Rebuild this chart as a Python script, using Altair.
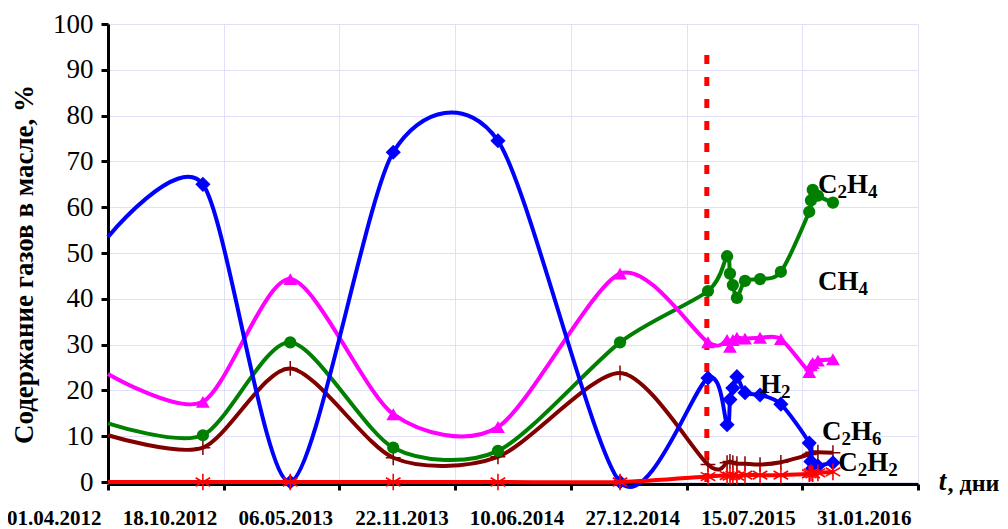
import altair as alt
import pandas as pd

# ---- data (days counted from 01.04.2012) ----
days = [0, 164, 315, 493, 674, 885, 1037, 1070, 1075, 1080, 1087, 1101, 1127, 1163, 1212, 1215, 1218, 1227, 1253]
h2   = [53.5, 65.0, 0.0, 72.0, 74.5, 0.0, 22.7, 12.5, 18.0, 20.5, 23.0, 19.5, 19.0, 17.0, 8.5, 4.5, 3.0, 3.5, 4.2]
ch4  = [23.6, 17.5, 44.3, 14.8, 12.0, 45.5, 30.5, 31.0, 29.5, 31.0, 31.5, 31.3, 31.5, 31.2, 24.0, 25.5, 26.0, 26.5, 26.8]
c2h4 = [12.8, 10.2, 30.5, 7.5, 6.8, 30.5, 41.7, 49.3, 45.5, 43.0, 40.2, 43.9, 44.3, 45.9, 59.0, 61.5, 63.8, 62.5, 61.0]
c2h6 = [10.2, 7.5, 24.8, 5.3, 5.5, 23.8, 3.8, 4.2, 4.5, 4.2, 4.0, 4.0, 3.8, 4.3, 6.0, 6.2, 6.5, 6.5, 6.4]
c2h2 = [0.0, 0.0, 0.0, 0.0, 0.0, 0.0, 1.2, 1.4, 1.3, 1.5, 1.3, 1.5, 1.5, 1.5, 1.8, 2.0, 1.8, 2.0, 2.2]

tick_days = [0, 200, 400, 600, 800, 1000, 1200, 1400]
tick_labels = ["01.04.2012", "18.10.2012", "06.05.2013", "22.11.2013",
               "10.06.2014", "27.12.2014", "15.07.2015", "31.01.2016"]
y_ticks = [0, 10, 20, 30, 40, 50, 60, 70, 80, 90, 100]

event_day = [1035]
event_bottom = [0]
event_top = [96]

ann_text = ["C2H4", "CH4", "H2", "C2H6", "C2H2"]
ann_day = [1227, 1227, 1127, 1234, 1262]
ann_val = [64.8, 43.7, 21.2, 10.9, 4.1]

axis_title_x = ["t", ", дни"]
axis_title_day = [1436, 1451]

# ---- styles ----
FONT = "Liberation Serif"
PX_PER_DAY = 810 / 1400
BIG, SMALL = 27, 19
ADV = {"C": 0.722, "H": 0.778}

series = [
    ("C2H6", c2h6, "#800000"),
    ("C2H4", c2h4, "#008000"),
    ("CH4", ch4, "#FF00FF"),
    ("H2", h2, "#0000FF"),
    ("C2H2", c2h2, "#FF0000"),
]
marker_style = {
    "H2": dict(shape="diamond", filled=True, size=230),
    "CH4": dict(shape="triangle-up", filled=True, size=190),
    "C2H4": dict(shape="circle", filled=True, size=150),
    "C2H6": dict(shape="M-1,0L1,0M0,-1L0,1", filled=False, size=220, strokeWidth=1.5),
    "C2H2": dict(shape="M0,-1L0,1M-0.87,-0.5L0.87,0.5M-0.87,0.5L0.87,-0.5", filled=False, size=280, strokeWidth=1.6),
}

label_map = " : ".join("datum.value == %d ? '%s'" % (d, l) for d, l in zip(tick_days, tick_labels)) + " : ''"

x_enc = alt.X(
    "day:Q",
    scale=alt.Scale(domain=[0, 1400], nice=False, zero=False),
    axis=alt.Axis(
        values=tick_days, labelExpr=label_map, title=None,
        grid=True, gridColor="#e0e0f8", gridWidth=1,
        domainColor="black", domainWidth=3, offset=2,
        tickColor="black", tickWidth=3, tickSize=6,
        labelFont=FONT, labelFontWeight="bold", labelFontSize=21, labelColor="black",
        labelAlign="right", labelBaseline="top", labelPadding=17, labelOffset=-7,
        labelFlush=False, labelOverlap=False, labelBound=False,
    ),
)
y_enc = alt.Y(
    "value:Q",
    scale=alt.Scale(domain=[0, 100], nice=False),
    axis=alt.Axis(
        values=y_ticks, title="Содержание газов в масле, %",
        grid=True, gridColor="#e0e0f8", gridWidth=1,
        domainColor="black", domainWidth=3,
        tickColor="black", tickWidth=3, tickSize=7,
        labelFont=FONT, labelFontSize=27, labelColor="black", labelPadding=8,
        titleFont=FONT, titleFontSize=27, titleFontWeight="bold", titleColor="black",
        titleAngle=-90, titleX=-84, titleY=240, titleAlign="center", titleBaseline="middle",
    ),
)

layers = []
event_df = pd.DataFrame({"day": event_day, "value": event_bottom, "top": event_top})
layers.append(
    alt.Chart(event_df).mark_rule(color="#FF0000", strokeWidth=5, strokeDash=[9, 13]).encode(
        x=x_enc, y=y_enc, y2="top:Q"
    )
)

for name, vals, color in series:
    df = pd.DataFrame({"day": days, "value": vals})
    layers.append(
        alt.Chart(df).mark_line(interpolate="cardinal", tension=0.2, strokeWidth=4, color=color)
        .encode(x=x_enc, y=y_enc)
    )
    ms = marker_style[name]
    mdf = df.iloc[1:]
    kw = dict(color=color, shape=ms["shape"], filled=ms["filled"], size=ms["size"], opacity=1)
    if "strokeWidth" in ms:
        kw["strokeWidth"] = ms["strokeWidth"]
    layers.append(alt.Chart(mdf).mark_point(**kw).encode(x=x_enc, y=y_enc))

# chemical-formula labels: letters big, digits as subscripts
big_rows, small_rows = [], []
for text, d0, v in zip(ann_text, ann_day, ann_val):
    px = 0.0
    for ch in text:
        if ch.isdigit():
            small_rows.append({"text": ch, "day": d0 + px / PX_PER_DAY, "value": v})
            px += 0.5 * SMALL
        else:
            big_rows.append({"text": ch, "day": d0 + px / PX_PER_DAY, "value": v})
            px += ADV.get(ch, 0.7) * BIG
layers.append(
    alt.Chart(pd.DataFrame(big_rows)).mark_text(font=FONT, fontSize=BIG, fontWeight="bold", align="left",
                                                baseline="middle", color="black")
    .encode(x=x_enc, y=y_enc, text="text:N")
)
layers.append(
    alt.Chart(pd.DataFrame(small_rows)).mark_text(font=FONT, fontSize=SMALL, fontWeight="bold", align="left",
                                                  baseline="middle", color="black", dy=7)
    .encode(x=x_enc, y=y_enc, text="text:N")
)

t_df = pd.DataFrame({"text": axis_title_x, "day": axis_title_day, "value": [0, 0]})
layers.append(
    alt.Chart(t_df.iloc[:1]).mark_text(font=FONT, fontSize=27, fontWeight="bold", fontStyle="italic",
                                       align="left", baseline="middle", color="black")
    .encode(x=x_enc, y=y_enc, text="text:N")
)
layers.append(
    alt.Chart(t_df.iloc[1:]).mark_text(font=FONT, fontSize=24, fontWeight="bold",
                                       align="left", baseline="middle", color="black", dy=2)
    .encode(x=x_enc, y=y_enc, text="text:N")
)

chart = alt.layer(*layers).properties(
    width=810, height=458,
    autosize="none",
    padding={"left": 100, "top": 16, "right": 82, "bottom": 47},
).configure_view(stroke=None)

chart.save("out.html", embed_options={"renderer": "svg", "actions": False})
